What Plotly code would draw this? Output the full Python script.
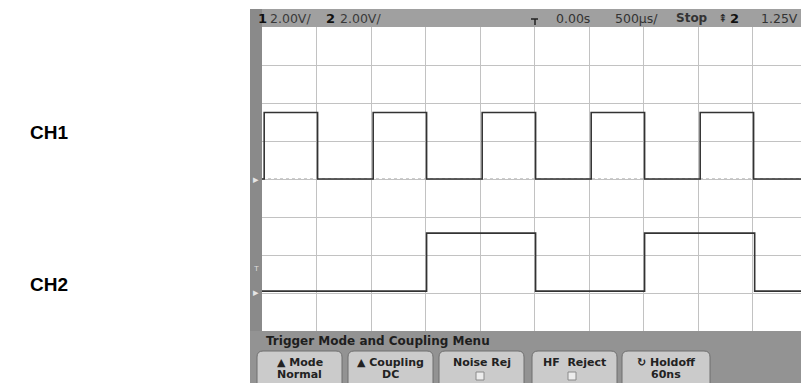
import plotly.graph_objects as go

# ---------------- data ----------------
# time in ms, 500 us/div, 0.00 s delay -> screen starts at -2.5 ms
ch1_t = [-2.5, -2.48, -1.99, -1.48, -0.99, -0.48, 0.01, 0.52, 1.01, 1.52, 2.01, 2.445]
ch1_v = [0.0, 3.5, 0.0, 3.5, 0.0, 3.5, 0.0, 3.5, 0.0, 3.5, 0.0, 0.0]
ch2_t = [-2.5, -0.99, 0.01, 1.01, 2.02, 2.445]
ch2_v = [0.0, 3.05, 0.0, 3.05, 0.0, 0.0]

channel_labels = ["CH1", "CH2"]
status_items = ["2.00V/", "2.00V/", "0.00s", "500µs/", "Stop", "2", "1.25V"]
menu_title = "Trigger Mode and Coupling Menu"
buttons = [("▲ Mode", "Normal"), ("▲ Coupling", "DC"), ("Noise Rej", ""),
           ("HF  Reject", ""), ("↻ Holdoff", "60ns")]

# ---------------- layout helpers (pixel -> paper) ----------------
W, H = 801, 383
L, R, T, B = 262, 801, 27, 331


def px(x):
    return (x - L) / (R - L)


def py(y):
    return (B - y) / (B - T)


FONT = "Liberation Sans, Arial, sans-serif"
SCOPE = "DejaVu Sans, Verdana, sans-serif"

fig = go.Figure()
fig.add_trace(go.Scatter(x=ch1_t, y=ch1_v, mode="lines", line_shape="hv",
                         line=dict(color="#333333", width=1.6), yaxis="y",
                         showlegend=False, hoverinfo="skip"))
fig.add_trace(go.Scatter(x=ch2_t, y=ch2_v, mode="lines", line_shape="hv",
                         line=dict(color="#333333", width=1.6), yaxis="y2",
                         showlegend=False, hoverinfo="skip"))

shapes = []


def rect(x0, y0, x1, y1, fill, line=None, lw=0):
    shapes.append(dict(type="rect", xref="paper", yref="paper",
                       x0=px(x0), x1=px(x1), y0=py(y1), y1=py(y0),
                       fillcolor=fill, line=dict(color=line or fill, width=lw),
                       layer="above"))


def seg(x0, y0, x1, y1, color, w=1, dash=None, layer="above"):
    d = dict(color=color, width=w)
    if dash:
        d["dash"] = dash
    shapes.append(dict(type="line", xref="paper", yref="paper",
                       x0=px(x0), x1=px(x1), y0=py(y0), y1=py(y1),
                       line=d, layer=layer))


def rounded(x0, y0, x1, y1, r, fill, line):
    X0, X1 = px(x0), px(x1)
    Y0, Y1 = py(y0), py(y1)
    rx = r / (R - L)
    ry = r / (B - T)
    path = (f"M {X0},{Y1} L {X0},{Y0 - ry} Q {X0},{Y0} {X0 + rx},{Y0} "
            f"L {X1 - rx},{Y0} Q {X1},{Y0} {X1},{Y0 - ry} "
            f"L {X1},{Y1 + ry} Q {X1},{Y1} {X1 - rx},{Y1} "
            f"L {X0 + rx},{Y1} Q {X0},{Y1} {X0},{Y1 + ry} Z")
    shapes.append(dict(type="path", xref="paper", yref="paper", path=path,
                       fillcolor=fill, line=dict(color=line, width=1),
                       layer="above"))


# scope frame
rect(250, 9, 801, 27, "#a0a0a0")          # status bar
rect(250, 9, 262, 383, "#8a8a8a")         # left strip
rect(250, 331, 801, 383, "#939393")       # bottom menu area
# center dotted line (ch1 ground)
seg(262, 179, 801, 179, "#9a9a9a", 1, "dot", layer="below")
# trigger marker in status bar
seg(531, 19, 538, 19, "#222", 1.5)
seg(535, 19, 535, 25, "#222", 1.5)

# buttons
btn_x = [(257, 342), (348, 433), (439, 524), (532, 617), (622, 710)]
for (x0, x1) in btn_x:
    rounded(x0, 351, x1, 389, 6, "#cbcbcb", "#6f6f6f")
# checkboxes
for cx in (480, 572):
    rect(cx - 4, 372, cx + 4, 380, "#ececec", "#8a8a8a", 1)

annotations = []


def text(x, y, s, size=12, color="#333", bold=False, anchor="left", family=FONT):
    if bold:
        s = f"<b>{s}</b>"
    annotations.append(dict(x=px(x), y=py(y), xref="paper", yref="paper",
                            text=s, showarrow=False, xanchor=anchor,
                            yanchor="middle",
                            font=dict(family=family, size=size, color=color)))


# channel labels
text(28, 132, channel_labels[0], 19, "#000", True)
text(28, 284, channel_labels[1], 19, "#000", True)

# status bar
text(256, 18, "1", 13, "#111", True, family=SCOPE)
text(268, 18, status_items[0], 12.5, "#3a3a3a", family=SCOPE)
text(324, 18, "2", 13, "#111", True, family=SCOPE)
text(338, 18, status_items[1], 12.5, "#3a3a3a", family=SCOPE)
text(554, 18, status_items[2], 12.5, "#333", family=SCOPE)
text(613, 18, status_items[3], 12.5, "#333", family=SCOPE)
text(674, 18, status_items[4], 12, "#333", True, family=SCOPE)
text(716, 18, "⇞", 11, "#222", family=SCOPE)
text(728, 18, status_items[5], 13, "#111", True, family=SCOPE)
text(759, 18, status_items[6], 12.5, "#333", family=SCOPE)

# ground / trigger markers on the left strip
text(256, 179, "▸", 11, "#e6e6e6", anchor="center")
text(256, 292, "▸", 11, "#e6e6e6", anchor="center")
text(256, 268, "T", 8, "#dddddd", anchor="center")

# menu
text(264, 341, menu_title, 12, "#1e1e1e", True, family=SCOPE)
for (x0, x1), (l1, l2) in zip(btn_x, buttons):
    cx = (x0 + x1) / 2
    text(cx, 362, l1, 11, "#222", True, anchor="center", family=SCOPE)
    if l2:
        text(cx, 374, l2, 11, "#222", True, anchor="center", family=SCOPE)

fig.update_layout(
    width=W, height=H,
    margin=dict(l=L, r=W - R, t=T, b=H - B, pad=0),
    paper_bgcolor="white", plot_bgcolor="white",
    showlegend=False,
    xaxis=dict(range=[-2.5, 2.445], dtick=0.5, tick0=-2.5, showgrid=True,
               gridcolor="#c2c2c2", gridwidth=1, zeroline=False,
               showticklabels=False, ticks="", showline=False, fixedrange=True),
    yaxis=dict(range=[-8, 8], dtick=2, tick0=0, showgrid=True,
               gridcolor="#c2c2c2", gridwidth=1, zeroline=False,
               showticklabels=False, ticks="", showline=False, fixedrange=True),
    yaxis2=dict(range=[-2.1, 13.9], overlaying="y", showgrid=False,
                zeroline=False, showticklabels=False, ticks="",
                showline=False, fixedrange=True),
    shapes=shapes, annotations=annotations,
)

fig.write_html("out.html", config=dict(displayModeBar=False),
               post_script="document.body.style.margin='0px';"
                           "document.body.style.overflow='hidden';")
